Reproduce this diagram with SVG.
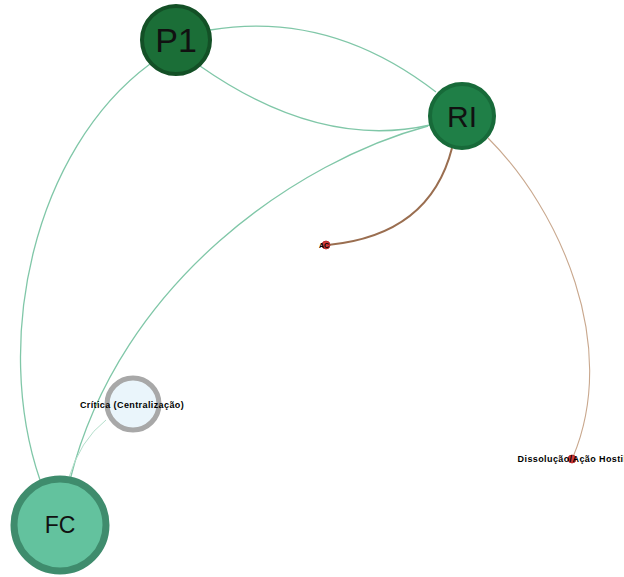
<svg xmlns="http://www.w3.org/2000/svg" width="624" height="577" viewBox="0 0 624 577">
<style>
.e{fill:none;stroke:#80c7a8;stroke-width:1.3}
.b{fill:none;stroke:#a47a5a}
.lbl{font-family:"Liberation Sans",Arial,sans-serif;fill:#111;text-anchor:middle}
.sm{font-family:"Liberation Sans",Arial,sans-serif;font-weight:bold;fill:#000;text-anchor:middle;font-size:9px;letter-spacing:0.4px}
</style>
<rect width="624" height="577" fill="#fff"/>
<g id="edges">
<path class="e" d="M 210 30 Q 330 10 436 92"/>
<path class="e" d="M 200 66 Q 320 150 430 125"/>
<path class="e" d="M 150 64 C 34 150, -8 340, 40 480"/>
<path class="e" d="M 428 126 C 300 160, 120 280, 70 480"/>
<path class="e" d="M 106 420 Q 80 440 68 480" style="stroke:#b5dfcc;stroke-width:1"/>
<path class="b" d="M 452 148 Q 430 235 328 245" style="stroke:#9a6e50;stroke-width:2"/>
<path class="b" d="M 488 138 C 560 210, 620 345, 573 457" style="stroke:#c9a88e;stroke-width:1.1"/>
</g>
<g id="P1">
<circle cx="176" cy="40" r="34" fill="#1b6e37" stroke="#135026" stroke-width="4"/>
<text class="lbl" x="176" y="52" font-size="34">P1</text>
</g>
<g id="RI">
<circle cx="462" cy="116" r="32" fill="#1f7f47" stroke="#176a39" stroke-width="4"/>
<text class="lbl" x="462" y="127" font-size="30">RI</text>
</g>
<g id="FC">
<circle cx="60" cy="525" r="46" fill="#63c29e" stroke="#3f8c6d" stroke-width="7"/>
<text class="lbl" x="60" y="533" font-size="23">FC</text>
</g>
<g id="Critica">
<circle cx="133" cy="404" r="26" fill="#eaf5fb" stroke="#a8a8a8" stroke-width="5"/>
<text class="sm" x="132" y="408">Crítica (Centralização)</text>
</g>
<g id="AC">
<circle cx="326" cy="245" r="4" fill="#d23a3a" stroke="#b02020" stroke-width="0.8"/>
<text class="sm" x="324" y="247.5" style="font-size:7px;letter-spacing:0">AC</text>
</g>
<g id="Dissolucao">
<circle cx="572" cy="459" r="4" fill="#d23a3a" stroke="#b02020" stroke-width="0.8"/>
<text class="sm" x="572" y="462">Dissolução/Ação Hostil</text>
</g>
</svg>
